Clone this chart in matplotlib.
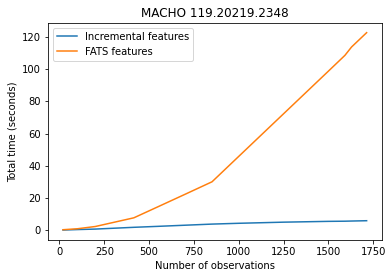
import matplotlib
matplotlib.use('Agg')
import matplotlib.pyplot as plt

n_obs = [20, 100, 200, 415, 550, 700, 851, 1000, 1250, 1500, 1592, 1629, 1713]
incremental = [0.0, 0.3, 0.6, 1.7, 2.3, 3.0, 3.7, 4.2, 4.9, 5.4, 5.5, 5.6, 5.8]
fats = [0.2, 0.8, 2.2, 7.6, 14.5, 22.2, 30.0, 45.8, 72.3, 98.8, 108.6, 113.8, 122.7]

fig = plt.figure(figsize=(392/72, 278/72), dpi=72)
ax = fig.add_axes([0.122, 0.137, 0.852, 0.781])
ax.plot(n_obs, incremental, label='Incremental features')
ax.plot(n_obs, fats, label='FATS features')
ax.set_xlabel('Number of observations')
ax.set_ylabel('Total time (seconds)')
ax.set_title('MACHO 119.20219.2348')
ax.set_xticks(range(0, 1751, 250))
ax.set_yticks(range(0, 121, 20))
ax.legend(loc='upper left')
fig.savefig('out.png', dpi=72)
